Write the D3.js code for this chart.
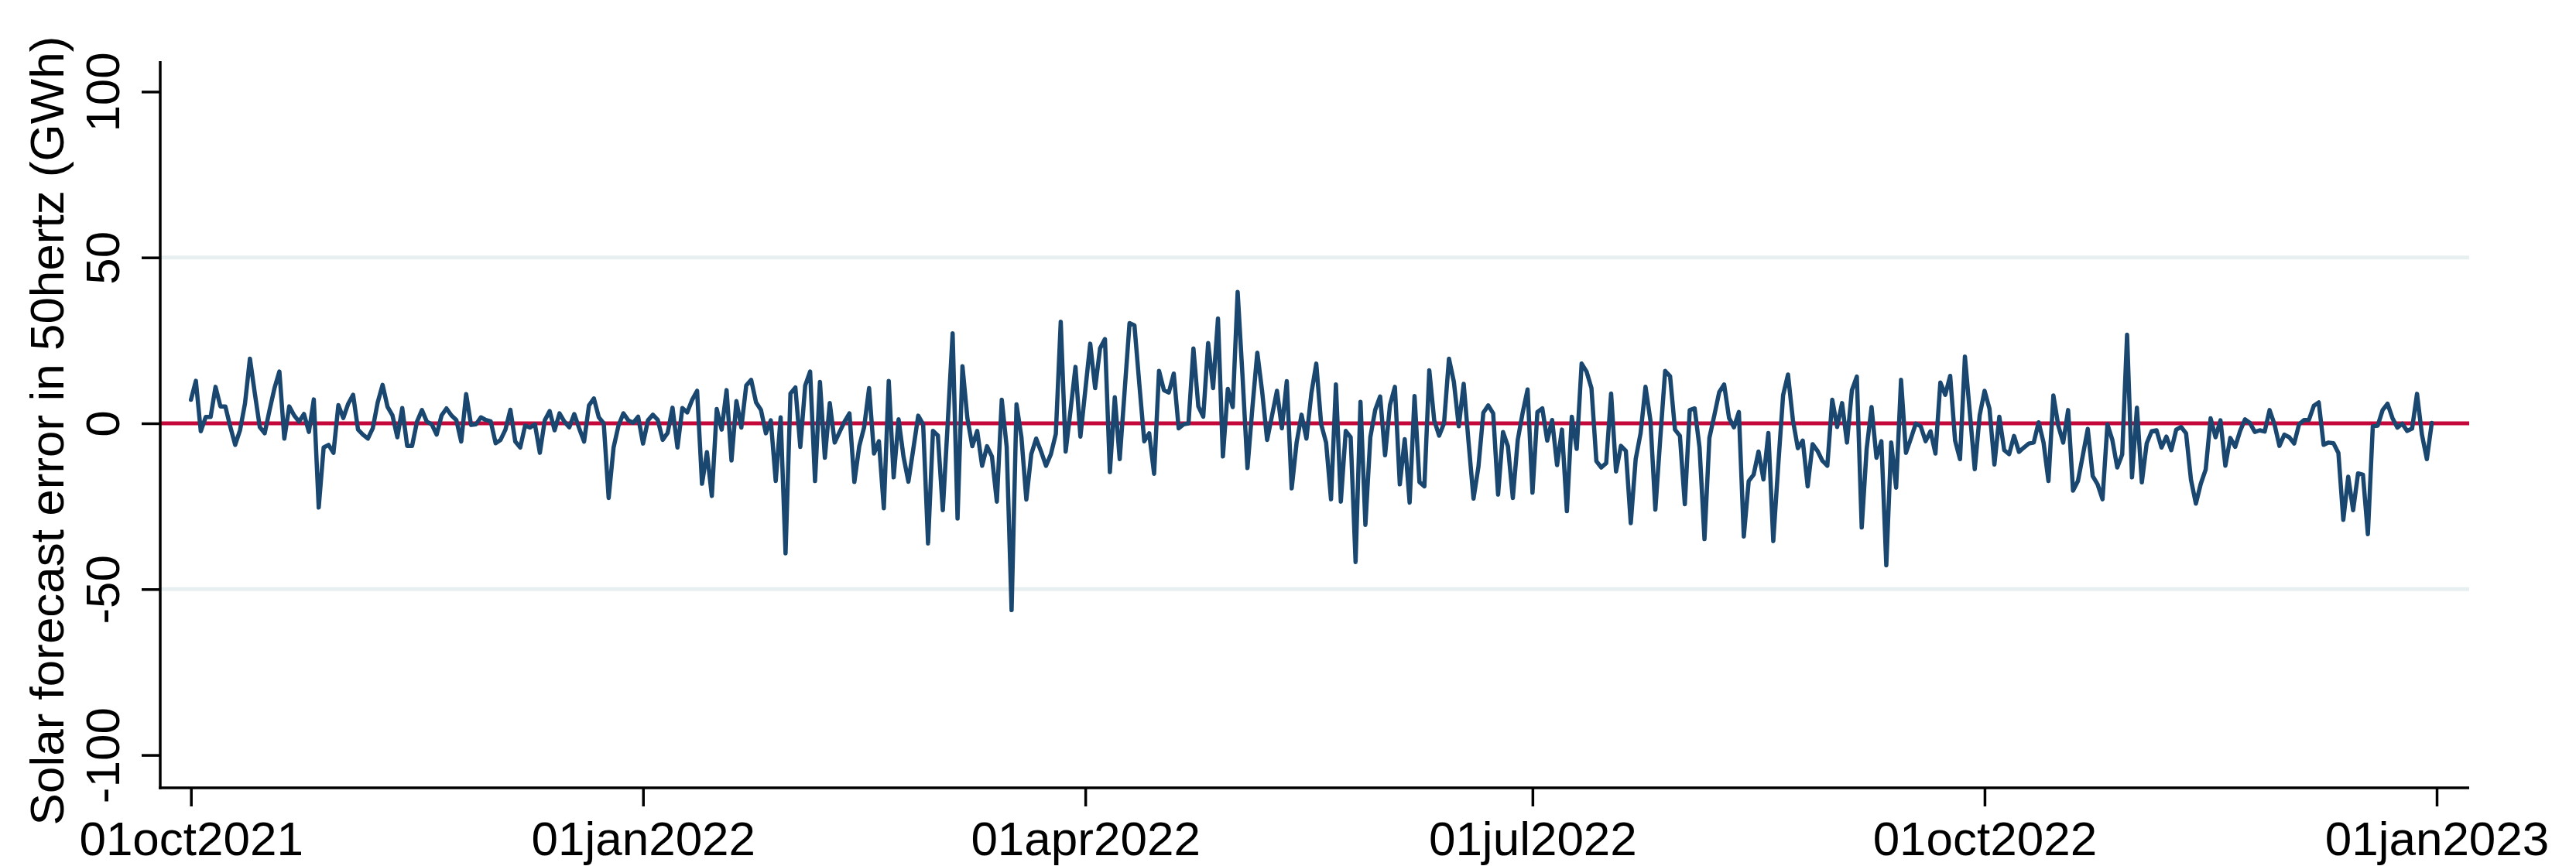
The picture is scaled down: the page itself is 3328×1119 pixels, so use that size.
<!DOCTYPE html>
<html>
<head>
<meta charset="utf-8">
<script src="https://cdn.jsdelivr.net/npm/d3@7"></script>
<style>
  html, body { margin: 0; padding: 0; background: #fff; }
  svg { display: block; font-family: "Liberation Sans", Arial, Helvetica, sans-serif; }
</style>
</head>
<body>
<svg id="chart" width="3328" height="1119"></svg>
<script>
// Daily solar forecast error (GWh), 50Hertz control area, starting 1 Oct 2021
const startDate = Date.UTC(2021, 9, 1);
const forecastError = [
  7.1, 12.8, -2.4, 1.9, 1.9, 11, 5.1, 5.1, -1, -6.5,
  -2, 6, 19.5, 9, -1.1, -3, 4, 10.6, 15.6, -4.6,
  5.1, 2.4, 0.5, 2.8, -2.6, 7.2, -25.4, -7.3, -6.5, -8.9,
  5.5, 1.6, 5.9, 8.6, -1.9, -3.4, -4.6, -1.5, 6.3, 11.6,
  5, 2.4, -4.2, 4.6, -6.8, -6.8, 0.5, 4, 0.5, -0.3,
  -3.4, 2.4, 4.5, 2.4, 1, -5.5, 8.8, -0.5, -0.3, 1.8,
  1, 0.6, -6, -5, -1.9, 4.1, -5.5, -7.3, -0.7, -1.3,
  -0.3, -8.9, 0.9, 3.7, -2.1, 3, 0.5, -1.2, 2.8, -1.5,
  -5.5, 5.4, 7.5, 1.8, 0, -22.5, -7.3, -0.7, 3, 0.9,
  0.2, 2, -6.1, 0.9, 2.6, 1, -5, -2.9, 4.7, -7.3,
  4.6, 3.3, 7.1, 9.8, -18.2, -8.7, -21.9, 4.3, -1.9, 10,
  -11.2, 6.7, -1.3, 11.4, 13.1, 6.3, 4, -3, 0.9, -17.4,
  1.8, -39.2, 9, 10.8, -7.1, 11.4, 15.6, -17.4, 12.5, -10.4,
  6.1, -5.8, -2.6, 0.5, 3, -17.7, -6.9, -1.1, 10.6, -9.1,
  -5.4, -25.6, 12.8, -16.3, 1.2, -10, -17.6, -7.7, 2.3, -0.3,
  -36.2, -2.3, -3.7, -26.2, 0, 27.1, -28.7, 17.2, 1.6, -6.9,
  -2.3, -12.8, -6.9, -10, -23.6, 7.1, -7.1, -56.3, 5.7, -4.2,
  -23, -9.3, -4.6, -8.5, -12.8, -9.3, -3.2, 30.6, -8.5, 4,
  17, -4, 10, 24, 10.6, 22.6, 25.4, -14.7, 7.9, -10.8,
  9.7, 30.2, 29.5, 11.7, -5.4, -3, -15.2, 15.8, 10, 9.3,
  15, -1.5, -0.3, 0, 22.6, 5.1, 2, 24.2, 10.6, 31.6,
  -10, 10.4, 4.9, 39.6, 14, -13.5, 4.7, 21.3, 9.4, -5,
  2.4, 9.8, -1.5, 12.7, -19.6, -5.8, 2.6, -4.6, 9, 18,
  -0.3, -5.8, -22.9, 11.7, -23.6, -2.3, -4.2, -41.8, 6.5, -30.6,
  -4.2, 4.1, 8.1, -9.6, 5.5, 11, -18.4, -4.8, -23.9, 8.2,
  -17.7, -19, 16, 0.9, -3.7, 0, 19.5, 12.5, -0.9, 11.9,
  -5.8, -22.7, -13.1, 3.2, 5.4, 3, -21.5, -2.6, -6.9, -22.5,
  -5, 3.2, 10.2, -20.9, 3.4, 4.5, -5.2, 1, -12.6, -1.9,
  -26.5, 2, -7.7, 18, 15.6, 10.6, -11.4, -13.3, -12, 9,
  -14.5, -6.8, -8.3, -30.1, -10.8, -3, 11, 0.9, -26, -4.6,
  15.8, 14.2, -1.9, -3.8, -24.4, 4, 4.5, -7.3, -34.9, -4.4,
  2.4, 9.4, 11.7, 1.6, -1.2, 3.4, -34.1, -17.4, -15.5, -8.5,
  -16.9, -2.9, -35.5, -12.8, 8.5, 14.7, 0.9, -7.5, -5.2, -19,
  -6.3, -8.3, -11.3, -12.8, 7.1, -1.1, 6.1, -5.8, 10, 14.1,
  -31.4, -7.7, 4.9, -10.4, -5.4, -42.8, -5.8, -19.4, 13.1, -8.9,
  -4.6, -0.1, -0.9, -5.4, -2.4, -9.1, 12.3, 8.6, 14.3, -5.2,
  -10.8, 20.1, 3.2, -13.8, 2.4, 9.8, 4.4, -12.4, 2, -8.1,
  -9.3, -3.8, -8.6, -7.3, -6.1, -5.8, 0.3, -5.8, -17.4, 8.4,
  -0.7, -5.8, 4, -20.3, -17.4, -9.6, -1.7, -15.9, -18.4, -22.9,
  -0.3, -5, -13.3, -9.4, 26.7, -16.3, 4.7, -17.8, -6, -2.4,
  -2.1, -7.3, -4, -8.1, -1.9, -1.1, -3, -17, -24.2, -18.2,
  -13.9, 1.5, -4.2, 0.9, -12.8, -4.4, -7.1, -2.3, 1.2, 0.1,
  -2.6, -2.1, -2.5, 4, -0.3, -6.8, -3.4, -4.2, -6.1, -0.3,
  1, 1, 5.3, 6.3, -6.5, -5.8, -6, -8.9, -29.1, -16.1,
  -26.2, -15.1, -15.5, -33.4, -0.9, -0.7, 4, 5.9, 1.6, -1.3,
  -0.1, -2.3, -1.6, 8.9, -3.4, -10.8, 0.1
];

// Axis ticks
const yTicks = [-100, -50, 0, 50, 100];
const yGrid = [-50, 50];
const xTickDates = [
  Date.UTC(2021, 9, 1), Date.UTC(2022, 0, 1), Date.UTC(2022, 3, 1),
  Date.UTC(2022, 6, 1), Date.UTC(2022, 9, 1), Date.UTC(2023, 0, 1)
];
const xTickLabels = ["01oct2021", "01jan2022", "01apr2022", "01jul2022", "01oct2022", "01jan2023"];
const yTitle = "Solar forecast error in 50hertz (GWh)";

const series = forecastError.map((v, i) => ({ date: d3.utcDay.offset(new Date(startDate), i), value: v }));

// Plot region
const plot = { left: 207, right: 3190, top: 79, bottom: 1018 };
const fontSize = 62;
const navy = "#1a476f";
const zeroRed = "#c4083a";
const gridCol = "#e8eff1";

const x = d3.scaleUtc()
  .domain([new Date(xTickDates[0]), new Date(xTickDates[xTickDates.length - 1])])
  .range([246.7, 3148]);
const y = d3.scaleLinear().domain([-100, 100]).range([975.6, 118.4]);

const svg = d3.select("#chart");

// Horizontal gridlines
svg.append("g").selectAll("line").data(yGrid).join("line")
  .attr("x1", plot.left).attr("x2", plot.right)
  .attr("y1", d => y(d)).attr("y2", d => y(d))
  .attr("stroke", gridCol).attr("stroke-width", 5);

// Zero reference line
svg.append("line")
  .attr("x1", plot.left).attr("x2", plot.right)
  .attr("y1", y(0)).attr("y2", y(0))
  .attr("stroke", zeroRed).attr("stroke-width", 5);

// Forecast error series
const line = d3.line().x(d => x(d.date)).y(d => y(d.value));
svg.append("path")
  .datum(series)
  .attr("d", line)
  .attr("fill", "none")
  .attr("stroke", navy)
  .attr("stroke-width", 5.5)
  .attr("stroke-linejoin", "round")
  .attr("stroke-linecap", "round");

// Y axis (plain hyphen for negatives)
const yAxis = d3.axisLeft(y).tickValues(yTicks).tickSize(24).tickSizeOuter(0).tickFormat(d => String(d));
const gy = svg.append("g").attr("transform", `translate(${plot.left},0)`).call(yAxis);
gy.select(".domain").remove();
gy.selectAll(".tick line").attr("stroke", "#000").attr("stroke-width", 3.5);
gy.selectAll(".tick text")
  .attr("x", null).attr("dy", null)
  .attr("text-anchor", "middle")
  .attr("transform", "translate(-53,0) rotate(-90)")
  .attr("fill", "#000")
  .style("font-size", fontSize + "px")
  .style("font-family", "'Liberation Sans', Arial, Helvetica, sans-serif");

// X axis
const xAxis = d3.axisBottom(x).tickValues(xTickDates.map(t => new Date(t))).tickSize(24).tickSizeOuter(0)
  .tickFormat((d, i) => xTickLabels[i]);
const gx = svg.append("g").attr("transform", `translate(0,${plot.bottom})`).call(xAxis);
gx.select(".domain").remove();
gx.selectAll(".tick line").attr("stroke", "#000").attr("stroke-width", 3.5);
gx.selectAll(".tick text")
  .attr("y", 87).attr("dy", null)
  .attr("fill", "#000")
  .style("font-size", fontSize + "px")
  .style("font-family", "'Liberation Sans', Arial, Helvetica, sans-serif");

// Axis lines
svg.append("line")
  .attr("x1", plot.left).attr("x2", plot.left)
  .attr("y1", plot.top).attr("y2", plot.bottom + 1.75)
  .attr("stroke", "#000").attr("stroke-width", 3.5);
svg.append("line")
  .attr("x1", plot.left - 1.75).attr("x2", plot.right)
  .attr("y1", plot.bottom).attr("y2", plot.bottom)
  .attr("stroke", "#000").attr("stroke-width", 3.5);

// Y axis title
svg.append("text")
  .attr("transform", `translate(82,${(plot.top + plot.bottom) / 2 + 8}) rotate(-90)`)
  .attr("text-anchor", "middle")
  .style("font-size", fontSize + "px")
  .attr("fill", "#000")
  .text(yTitle);
</script>
</body>
</html>
